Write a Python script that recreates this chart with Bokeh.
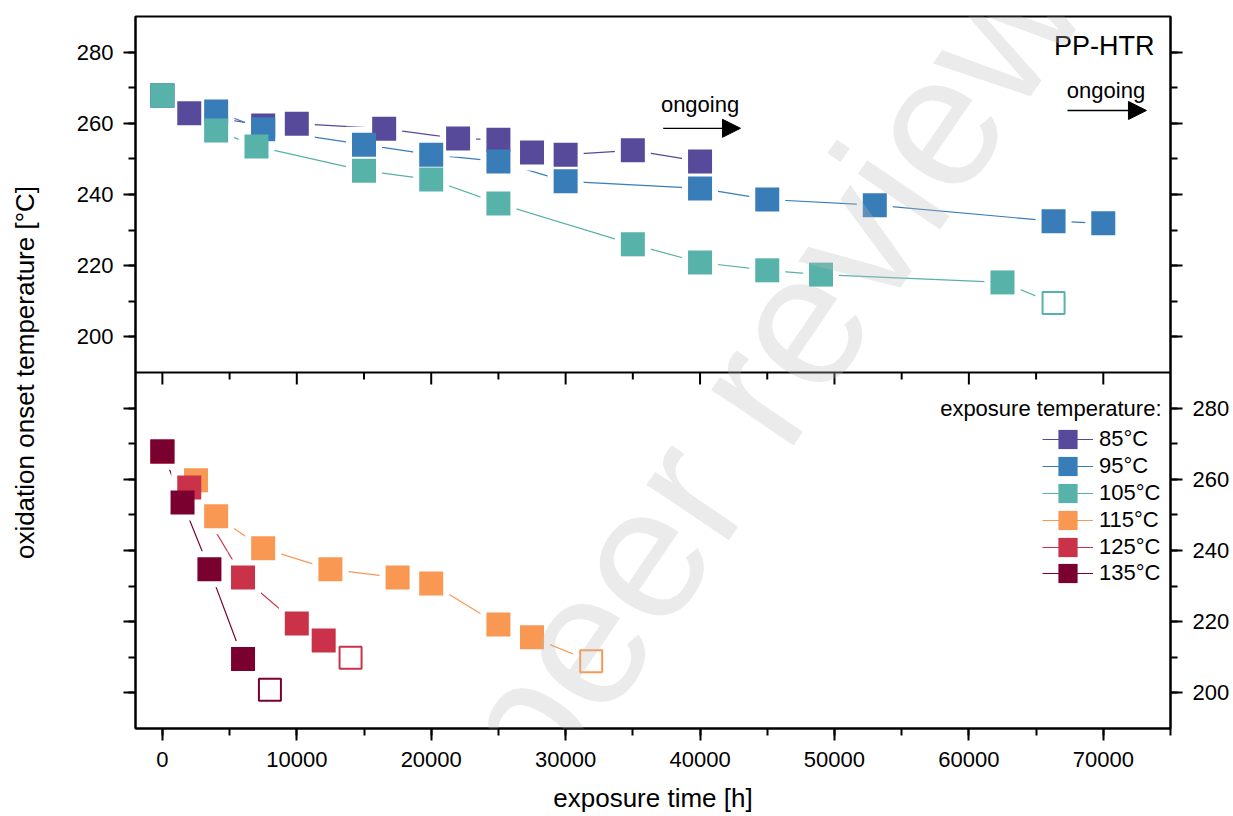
import numpy as np
from bokeh.plotting import figure
from bokeh.models import (Range1d, LinearAxis, FixedTicker, SingleIntervalTicker, Span,
                          Legend, LegendItem, Label, Arrow, NormalHead)
from bokeh.embed import file_html
from bokeh.resources import INLINE

FONT = "Liberation Sans"

# ---------------- data ----------------
series_names = ["85°C", "95°C", "105°C", "115°C", "125°C", "135°C"]
series_colors = ["#584a9a", "#387cb8", "#57b2a9", "#f89853", "#ca3249", "#7a0030"]
series_panel = ["top", "top", "top", "bottom", "bottom", "bottom"]
# last point drawn as open symbol (end of test) for these series
series_last_open = [False, False, True, True, True, True]

t85 = [0, 2000, 7500, 10000, 16500, 22000, 25000, 27500, 30000, 35000, 40000]
o85 = [267.8, 262.8, 259.4, 259.9, 258.5, 255.7, 255.4, 251.8, 251.2, 252.4, 249.3]
t95 = [0, 4000, 7500, 15000, 20000, 25000, 30000, 40000, 45000, 53000, 66300, 70000]
o95 = [267.8, 263.3, 258.3, 254.0, 251.2, 249.3, 243.7, 241.7, 238.6, 237.0, 232.5, 231.9]
t105 = [0, 4000, 7000, 15000, 20000, 25000, 35000, 40000, 45000, 49000, 62500, 66300]
o105 = [267.8, 258.0, 253.5, 246.7, 244.2, 237.5, 226.0, 220.9, 218.7, 217.5, 215.3, 209.5]
t115 = [0, 2500, 4000, 7500, 12500, 17500, 20000, 25000, 27500, 31900]
o115 = [267.8, 259.7, 249.6, 240.6, 234.7, 232.4, 230.7, 219.2, 215.6, 208.9]
t125 = [0, 2000, 6000, 10000, 12000, 14000]
o125 = [267.8, 257.7, 232.4, 219.5, 214.7, 209.9]
t135 = [0, 1500, 3500, 6000, 8000]
o135 = [267.8, 253.5, 234.7, 209.5, 200.9]

times = [t85, t95, t105, t115, t125, t135]
onsets = [o85, o95, o105, o115, o125, o135]

y_major = [200, 220, 240, 260, 280]
y_minor = [200, 210, 220, 230, 240, 250, 260, 270, 280]
OFFSET = 100  # the two stacked panels share one frame; each spans 100 °C

# ---------------- figure ----------------
p = figure(width=1233, height=816, output_backend="svg", toolbar_location=None,
           x_range=Range1d(-2000, 75000), y_range=Range1d(90, 290),
           min_border_left=135, min_border_right=63, min_border_top=16, min_border_bottom=88,
           background_fill_color="white", border_fill_color="white")
p.extra_y_ranges = {"bot": Range1d(190, 390)}
p.xgrid.visible = False
p.ygrid.visible = False
p.outline_line_color = "black"
p.outline_line_width = 2


def style_axis(ax, standoff):
    ax.axis_line_color = "black"
    ax.axis_line_width = 2
    ax.major_tick_line_width = 2
    ax.minor_tick_line_width = 2
    ax.major_tick_in = 0
    ax.major_tick_out = 12
    ax.minor_tick_in = 0
    ax.minor_tick_out = 7
    ax.major_label_text_font = FONT
    ax.major_label_text_font_size = "22px"
    ax.major_label_text_color = "black"
    ax.major_label_standoff = standoff
    ax.axis_label_text_font = FONT
    ax.axis_label_text_font_style = "normal"
    ax.axis_label_text_font_size = "26px"
    ax.axis_label_text_color = "black"


# x axis
xax = p.xaxis[0]
xax.ticker = SingleIntervalTicker(interval=10000, num_minor_ticks=2)
xax.axis_label = "exposure time [h]"
style_axis(xax, 11)
xax.axis_label_standoff = 13

# left axis: labels only for the upper panel
lt_major = [v - OFFSET for v in y_major] + y_major
lt_minor = [v - OFFSET for v in y_minor] + y_minor
yax = p.yaxis[0]
yax.ticker = FixedTicker(ticks=lt_major, minor_ticks=lt_minor)
yax.major_label_overrides = {v - OFFSET: "" for v in y_major}
yax.axis_label = "oxidation onset temperature [°C]"
style_axis(yax, 10)
yax.axis_label_standoff = 34

# right axis: labels only for the lower panel
rt_major = y_major + [v + OFFSET for v in y_major]
rt_minor = y_minor + [v + OFFSET for v in y_minor]
rax = LinearAxis(y_range_name="bot", ticker=FixedTicker(ticks=rt_major, minor_ticks=rt_minor))
rax.major_label_overrides = {v + OFFSET: "" for v in y_major}
style_axis(rax, 10)
p.add_layout(rax, "right")

# divider between the two panels and its ticks (pointing into the lower panel)
p.add_layout(Span(location=190, dimension="width", line_color="black", line_width=2))
xmaj = np.arange(0, 70001, 10000)
xmin = np.arange(5000, 70000, 10000)
p.ray(x=xmaj, y=np.full(len(xmaj), 190.0), length=12, length_units="screen",
      angle=-np.pi / 2, line_color="black", line_width=2)
p.ray(x=xmin, y=np.full(len(xmin), 190.0), length=7, length_units="screen",
      angle=-np.pi / 2, line_color="black", line_width=2)

# ---------------- data glyphs ----------------
line_r = []
for t, o, c, pan in zip(times, onsets, series_colors, series_panel):
    rn = "default" if pan == "top" else "bot"
    line_r.append(p.line(t, o, line_color=c, line_width=1.2, y_range_name=rn))

# white halos give the small gaps between connecting lines and symbols
for t, o, pan in zip(times, onsets, series_panel):
    rn = "default" if pan == "top" else "bot"
    p.scatter(t, o, marker="square", size=36, fill_color="white", line_color=None,
              y_range_name=rn)

mark_r = []
for t, o, c, pan, lo in zip(times, onsets, series_colors, series_panel, series_last_open):
    rn = "default" if pan == "top" else "bot"
    n = len(t) - 1 if lo else len(t)
    mark_r.append(p.scatter(t[:n], o[:n], marker="square", size=24, fill_color=c,
                            line_color=None, y_range_name=rn))
    if lo:
        p.scatter(t[n:], o[n:], marker="square", size=22, fill_color="white",
                  line_color=c, line_width=2, y_range_name=rn)

# ---------------- legend (one single-row legend per entry, rows 27 px apart) ----------------
ROW0, PITCH, GH = 264.7, 26.8, 48
for i, (nm, lr, mr) in enumerate(zip(series_names, line_r, mark_r)):
    lg = Legend(items=[LegendItem(label=nm, renderers=[lr, mr])],
                location=(907, ROW0 - PITCH * i), glyph_width=51, glyph_height=GH,
                spacing=0, label_standoff=6, padding=0, margin=0,
                border_line_color=None, background_fill_alpha=0,
                label_text_font=FONT, label_text_font_size="22px", label_text_color="black")
    p.add_layout(lg)

p.add_layout(Label(x=74330, y=179.9, text="exposure temperature:", text_align="right",
                   text_baseline="alphabetic", text_font=FONT, text_font_size="22px",
                   text_color="black"))

# ---------------- annotations ----------------
p.add_layout(Label(x=73807, y=281.6, text="PP-HTR", text_align="right",
                   text_baseline="alphabetic", text_font=FONT, text_font_size="27px",
                   text_color="black"))
for xt, yt, xs, xe, ya in [(40000, 265.4, 37258, 43008, 258.6),
                           (70200, 269.3, 67335, 73212, 263.6)]:
    p.add_layout(Label(x=xt, y=yt, text="ongoing", text_align="center",
                       text_baseline="alphabetic", text_font=FONT, text_font_size="22px",
                       text_color="black"))
    p.add_layout(Arrow(end=NormalHead(size=18, fill_color="black", line_color="black",
                                      line_width=1),
                       x_start=xs, y_start=ya, x_end=xe, y_end=ya,
                       line_color="black", line_width=1.3))

# watermark
p.add_layout(Label(x=10074, y=-2.9, text="Not peer reviewed", angle=0.974,
                   text_font=FONT, text_font_size="188px", text_color="#bdbdbd",
                   text_alpha=0.3, text_baseline="alphabetic", text_align="left"))

open("out.html", "w").write(file_html(p, INLINE))
